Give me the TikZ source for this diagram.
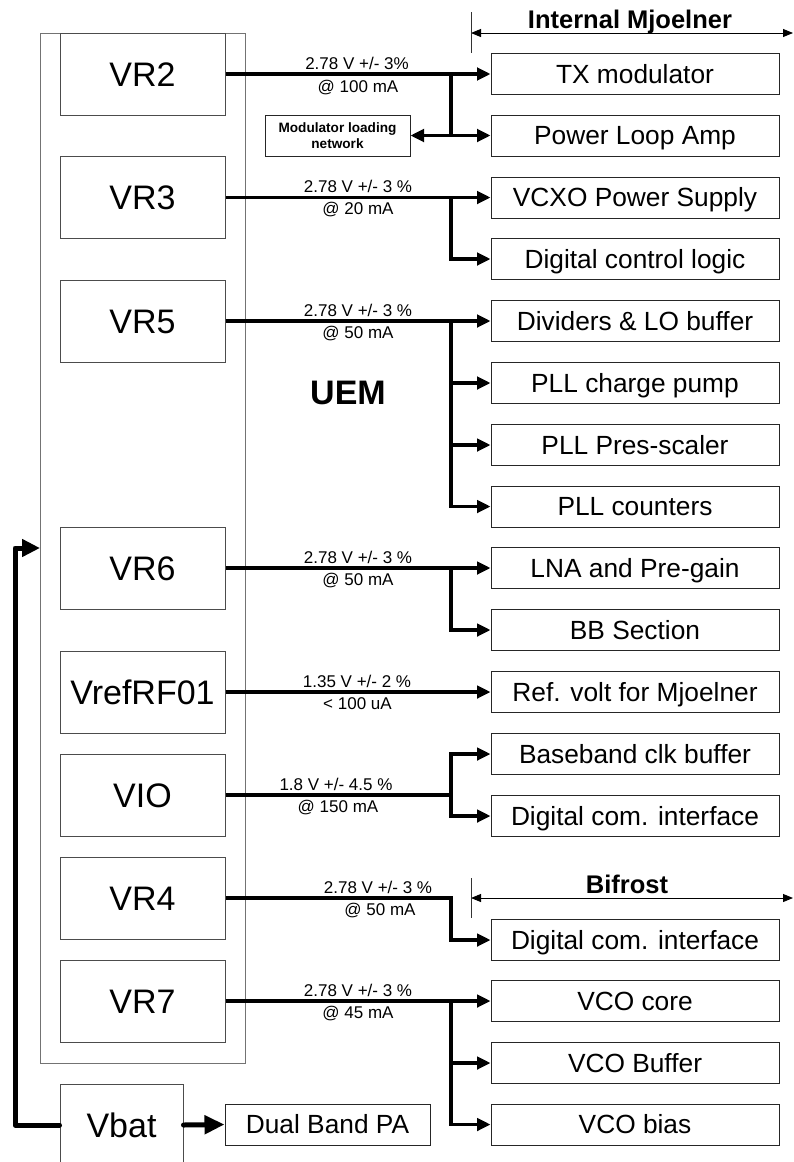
\documentclass[tikz,border=0pt]{standalone}
\usepackage{fontspec}
\setmainfont{Liberation Sans}
\usetikzlibrary{arrows.meta}

\begin{document}
\begin{tikzpicture}[x=1pt, y=-1pt,
		regbox/.style={draw=black!70, line width=1pt, minimum width=165pt, minimum height=82pt, inner sep=0pt, text height=24.3pt, text depth=0pt, font=\fontsize{34}{38}\selectfont},
		loadbox/.style={draw=black!85, line width=1pt, minimum width=288pt, minimum height=41pt, inner sep=0pt, text height=18.8pt, text depth=0pt, font=\fontsize{26.3}{30}\selectfont},
		supply/.style={line width=3.2pt, -{Triangle[length=13.5pt, width=12.5pt]}},
		feed/.style={line width=3.2pt},
		spec/.style={anchor=base, inner sep=0pt, font=\fontsize{17}{20}\selectfont},
		heading/.style={anchor=base, inner sep=0pt, font=\bfseries\fontsize{25.5}{30}\selectfont},
		span/.style={line width=0.9pt, {Triangle[length=10pt, width=8pt]}-{Triangle[length=10pt, width=8pt]}},
		tick/.style={line width=0.9pt, black!80},
		battery/.style={line width=5pt, line cap=round, line join=round}]

		\clip (0,0) rectangle (793,1162);
		\fill [white] (0,0) rectangle (793,1162);

		\node (uem) [draw=black!55, line width=1pt, minimum width=205.5pt, minimum height=1030pt] at (142.75,548) {};
		\node (uemtext) [anchor=base, inner sep=0pt, font=\bfseries\fontsize{34}{38}\selectfont] at (348,404) {UEM};

		\node (vr2) [regbox] at (142.5,74) {VR2};
		\node (vr3) [regbox] at (142.5,197.5) {VR3};
		\node (vr5) [regbox] at (142.5,321) {VR5};
		\node (vr6) [regbox] at (142.5,568) {VR6};
		\node (vref) [regbox] at (142.5,692) {VrefRF01};
		\node (vio) [regbox] at (142.5,795) {VIO};
		\node (vr4) [regbox] at (142.5,898) {VR4};
		\node (vr7) [regbox] at (142.5,1001) {VR7};
		\node (vbat) [regbox, minimum width=123pt] at (121.5,1125) {Vbat};

		\node (txmod) [loadbox] at (635,74) {TX modulator};
		\node (ploop) [loadbox] at (635,135.5) {Power Loop Amp};
		\node (vcxo) [loadbox] at (635,197.5) {VCXO Power Supply};
		\node (ctrl) [loadbox] at (635,259) {Digital control logic};
		\node (divlo) [loadbox] at (635,321) {Dividers \& LO buffer};
		\node (chpump) [loadbox] at (635,383) {PLL charge pump};
		\node (presc) [loadbox] at (635,445) {PLL Pres-scaler};
		\node (counters) [loadbox] at (635,506.5) {PLL counters};
		\node (lna) [loadbox] at (635,568) {LNA and Pre-gain};
		\node (bbsec) [loadbox] at (635,630) {BB Section};
		\node (refvolt) [loadbox] at (635,692) {Ref. volt for Mjoelner};
		\node (clkbuf) [loadbox] at (635,754) {Baseband clk buffer};
		\node (comif) [loadbox] at (635,816) {Digital com. interface};
		\node (bcomif) [loadbox] at (635,940) {Digital com. interface};
		\node (vcocore) [loadbox] at (635,1001) {VCO core};
		\node (vcobuf) [loadbox] at (635,1063) {VCO Buffer};
		\node (vcobias) [loadbox] at (635,1124.5) {VCO bias};
		\node (pa) [loadbox, minimum width=205pt] at (327.5,1124.5) {Dual Band PA};

		\node (modnet) [draw=black!85, line width=1pt, minimum width=145pt, minimum height=41pt, inner sep=0pt, align=center, font=\bfseries\fontsize{13.6}{16.5}\selectfont] at (337.5,135.5) {Modulator loading\\network};

		\node (mjhead) [heading] at (630,28) {Internal Mjoelner};
		\node (bfhead) [heading] at (627,893) {Bifrost};
		\coordinate (mjl) at (471,33);
		\coordinate (mjr) at (793,33);
		\coordinate (bfl) at (471,898);
		\coordinate (bfr) at (793,898);
		\draw [span] (mjl) -- (mjr);
		\draw [span] (bfl) -- (bfr);
		\draw [tick] (471,12) -- (471,53);
		\draw [tick] (471,878) -- (471,918);

		\node (s2a) [spec] at (357,69) {2.78 V +/- 3\%};
		\node (s2b) [spec] at (358,92) {@ 100 mA};
		\node (s3a) [spec] at (358,192.5) {2.78 V +/- 3 \%};
		\node (s3b) [spec] at (358,214.5) {@ 20 mA};
		\node (s5a) [spec] at (358,316) {2.78 V +/- 3 \%};
		\node (s5b) [spec] at (358,338) {@ 50 mA};
		\node (s6a) [spec] at (358,563) {2.78 V +/- 3 \%};
		\node (s6b) [spec] at (358,585) {@ 50 mA};
		\node (srefa) [spec] at (357,687) {1.35 V +/- 2 \%};
		\node (srefb) [spec] at (357.5,709) {< 100 uA};
		\node (sioa) [spec] at (336,790.5) {1.8 V +/- 4.5 \%};
		\node (siob) [spec] at (338,812) {@ 150 mA};
		\node (s4a) [spec] at (378,893) {2.78 V +/- 3 \%};
		\node (s4b) [spec] at (380,915) {@ 50 mA};
		\node (s7a) [spec] at (358,996) {2.78 V +/- 3 \%};
		\node (s7b) [spec] at (358,1018) {@ 45 mA};

		\coordinate (j2) at (451,74);
		\coordinate (j3) at (451,197.5);
		\coordinate (j5) at (451,321);
		\coordinate (j6) at (451,568);
		\coordinate (jio) at (451,795);
		\coordinate (j4) at (451,898);
		\coordinate (j7) at (451,1001);

		\draw [supply] (vr2.east) -- (txmod.west);
		\draw [supply] (j2) |- (ploop.west);
		\draw [supply] (j2) |- (modnet.east);
		\draw [supply] (vr3.east) -- (vcxo.west);
		\draw [supply] (j3) |- (ctrl.west);
		\draw [supply] (vr5.east) -- (divlo.west);
		\draw [supply] (j5) |- (chpump.west);
		\draw [supply] (j5) |- (presc.west);
		\draw [supply] (j5) |- (counters.west);
		\draw [supply] (vr6.east) -- (lna.west);
		\draw [supply] (j6) |- (bbsec.west);
		\draw [supply] (vref.east) -- (refvolt.west);
		\draw [feed] (vio.east) -- (jio);
		\draw [supply] (jio) |- (clkbuf.west);
		\draw [supply] (jio) |- (comif.west);
		\draw [supply] (vr4.east) -- (j4) |- (bcomif.west);
		\draw [supply] (vr7.east) -- (vcocore.west);
		\draw [supply] (j7) |- (vcobuf.west);
		\draw [supply] (j7) |- (vcobias.west);

		\coordinate (bend) at (15,548);
		\coordinate (uemin) at (40,548);
		\draw [battery, -{Triangle[length=18pt, width=17pt]}] (vbat.west) -| (bend) -- (uemin);
		\draw [battery, -{Triangle[length=20pt, width=18pt]}] (vbat.east) -- (pa.west);
	\end{tikzpicture}
\end{document}
